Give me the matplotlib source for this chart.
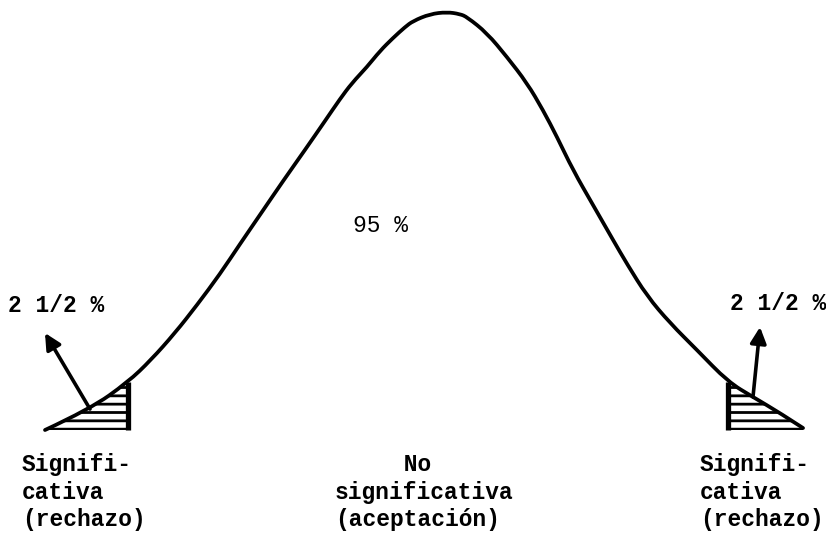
import numpy as np
import matplotlib
matplotlib.use("Agg")
import matplotlib.pyplot as plt
from matplotlib.path import Path
from matplotlib.patches import PathPatch

# Hand-drawn normal curve: standardized score vs. density
z_vals = [-2.502, -2.208, -1.960, -1.810, -1.653, -1.509, -1.359, -1.228,
          -1.085, -0.947, -0.804, -0.673, -0.575, -0.497, -0.399, -0.314,
          -0.229, -0.150, -0.098, 0.013, 0.124, 0.209, 0.255, 0.385, 0.516,
          0.647, 0.751, 0.843, 0.947, 1.078, 1.209, 1.300, 1.431, 1.581,
          1.757, 1.960, 2.123, 2.300, 2.450]
density = [0.0, 0.020, 0.0458, 0.0668, 0.0926, 0.1193, 0.1489, 0.1776,
           0.2081, 0.2377, 0.2673, 0.2950, 0.3160, 0.3312, 0.3465, 0.3618,
           0.3742, 0.3847, 0.3904, 0.3971, 0.3990, 0.3971, 0.3942, 0.3790,
           0.3561, 0.3312, 0.3055, 0.2797, 0.2482, 0.2148, 0.1814, 0.1585,
           0.1279, 0.1021, 0.0764, 0.0460, 0.0315, 0.0162, 0.0019]

critical = [-1.96, 1.96]
tail_label = "2 1/2 %"
center_label = "95 %"
region_labels = ["Signifi-\ncativa\n(rechazo)",
                 "     No\nsignificativa\n(aceptación)",
                 "Signifi-\ncativa\n(rechazo)"]

z = np.array(z_vals)
d = np.array(density)


def smooth_path(xs, ys):
    """Quadratic-Bezier path that uses the points as control points."""
    pts = np.column_stack([xs, ys])
    verts = [pts[0]]
    codes = [Path.MOVETO]
    for i in range(1, len(pts) - 2):
        verts += [pts[i], (pts[i] + pts[i + 1]) / 2]
        codes += [Path.CURVE3, Path.CURVE3]
    verts += [pts[-2], pts[-1]]
    codes += [Path.CURVE3, Path.CURVE3]
    return Path(verts, codes)


plt.rcParams["hatch.linewidth"] = 2.0
fig = plt.figure(figsize=(8.26, 5.40), dpi=100)
ax = fig.add_axes([0, 0, 1, 1])
ax.set_xlim(-2.796, 2.600)
ax.set_ylim(-0.105, 0.4105)
ax.axis("off")

# curve
ax.add_patch(PathPatch(smooth_path(z, d), facecolor="none",
                       edgecolor="black", lw=2.7, capstyle="round",
                       joinstyle="round"))

# shaded rejection tails
ax.fill_between(z, 0, d, where=z <= critical[0], interpolate=True,
                facecolor="none", edgecolor="black", hatch="--", lw=0)
ax.fill_between(z, 0, d, where=z >= critical[1], interpolate=True,
                facecolor="none", edgecolor="black", hatch="--", lw=0)
for c in critical:
    ax.vlines(c, 0, np.interp(c, z, d), color="black", lw=3.8)

# arrows pointing out of each tail
arrow_kw = dict(arrowstyle="-|>", lw=2.6, color="black", mutation_scale=24,
                shrinkA=0, shrinkB=0)
ax.annotate("", xy=(-2.502, 0.0926), xytext=(-2.208, 0.020),
            arrowprops=arrow_kw)
ax.annotate("", xy=(2.169, 0.0983), xytext=(2.123, 0.0315),
            arrowprops=arrow_kw)

mono = "Liberation Mono"
ax.text(-2.744, 0.1193, tail_label, family=mono, fontsize=16.5,
        fontweight="bold", ha="left", va="center")
ax.text(1.973, 0.1212, tail_label, family=mono, fontsize=16.5,
        fontweight="bold", ha="left", va="center")
ax.text(-0.490, 0.1957, center_label, family=mono, fontsize=16.5,
        ha="left", va="center")

for x0, lab in zip([-2.653, -0.608, 1.777], region_labels):
    ax.text(x0, -0.0592, lab, family=mono, fontsize=16.5, fontweight="bold",
            ha="left", va="center", linespacing=1.25)

fig.savefig("out.png", dpi=100, facecolor="white")
